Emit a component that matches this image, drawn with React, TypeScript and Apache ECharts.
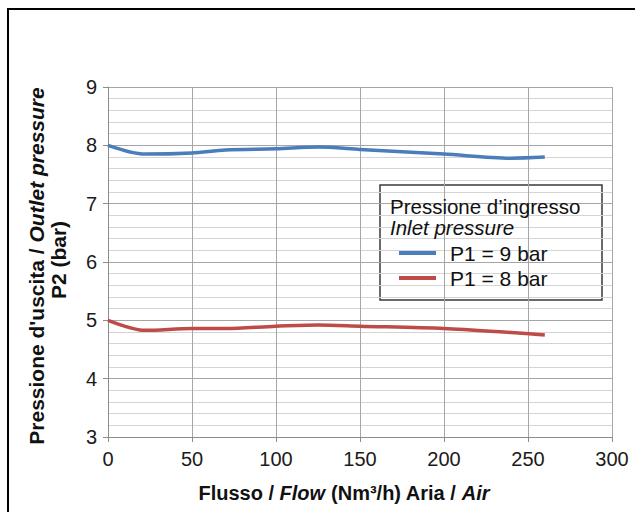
import React, { useEffect, useRef } from "react";
import * as echarts from "echarts";

const flow = [0, 22, 50, 70, 100, 125, 150, 200, 240, 260];
const p1_9bar = [8.0, 7.85, 7.87, 7.92, 7.94, 7.97, 7.93, 7.85, 7.78, 7.8];
const p1_8bar = [5.0, 4.83, 4.86, 4.86, 4.9, 4.92, 4.9, 4.86, 4.79, 4.75];
const seriesNames = ["P1 = 9 bar", "P1 = 8 bar"];
const xTicks = { min: 0, max: 300, interval: 50 };
const yTicks = { min: 3, max: 9, interval: 1 };

const FONT = "'Liberation Sans', Arial, sans-serif";

export default function App() {
  const ref = useRef<HTMLDivElement>(null);
  useEffect(() => {
    if (!ref.current) return;
    const chart = echarts.init(ref.current, undefined, { renderer: "svg" });
    const richX = {
      b: { fontFamily: FONT, fontSize: 20, fontWeight: "bold", fill: "#111" },
      bi: { fontFamily: FONT, fontSize: 20, fontWeight: "bold", fontStyle: "italic", fill: "#111" },
    };
    const richY = {
      b: { fontFamily: FONT, fontSize: 21, fontWeight: "bold", fill: "#111" },
      bi: { fontFamily: FONT, fontSize: 21, fontWeight: "bold", fontStyle: "italic", fill: "#111" },
    };
    chart.setOption({
      animation: false,
      backgroundColor: "#fff",
      grid: { left: 108, right: 23, top: 87, bottom: 75, containLabel: false },
      xAxis: {
        type: "value",
        min: xTicks.min,
        max: xTicks.max,
        interval: xTicks.interval,
        axisLine: { show: true, lineStyle: { color: "#8c8c8c", width: 1 } },
        axisTick: { show: true, length: 5, lineStyle: { color: "#8c8c8c" } },
        axisLabel: { fontFamily: FONT, fontSize: 20, color: "#1a1a1a", margin: 12 },
        splitLine: { show: true, lineStyle: { color: "#a6a6a6", width: 1 } },
      },
      yAxis: {
        type: "value",
        min: yTicks.min,
        max: yTicks.max,
        interval: yTicks.interval,
        axisLine: { show: true, lineStyle: { color: "#8c8c8c", width: 1 } },
        axisTick: { show: true, length: 5, lineStyle: { color: "#8c8c8c" } },
        axisLabel: { fontFamily: FONT, fontSize: 20, color: "#1a1a1a", margin: 11 },
        splitLine: { show: true, lineStyle: { color: "#a6a6a6", width: 1 } },
        minorTick: { show: false, splitNumber: 5 },
        minorSplitLine: { show: true, lineStyle: { color: "#d4d4d4", width: 1 } },
      },
      legend: {
        orient: "vertical",
        left: 394,
        top: 237,
        icon: "rect",
        itemWidth: 37,
        itemHeight: 4,
        itemGap: 3,
        textStyle: {
          fontFamily: FONT,
          fontSize: 21,
          color: "#111",
          lineHeight: 22,
          padding: [0, 0, 0, 9],
        },
        data: seriesNames,
      },
      series: [
        {
          name: seriesNames[0],
          type: "line",
          data: flow.map((x, i) => [x, p1_9bar[i]]),
          showSymbol: false,
          smooth: 0.3,
          lineStyle: { color: "#4a7ebb", width: 3.5 },
          itemStyle: { color: "#4a7ebb" },
          z: 5,
        },
        {
          name: seriesNames[1],
          type: "line",
          data: flow.map((x, i) => [x, p1_8bar[i]]),
          showSymbol: false,
          smooth: 0.3,
          lineStyle: { color: "#be4b48", width: 3.5 },
          itemStyle: { color: "#be4b48" },
          z: 5,
        },
      ],
      graphic: [
        {
          type: "rect",
          shape: { x: 8, y: 9, width: 650, height: 520 },
          style: { fill: "none", stroke: "#000", lineWidth: 2 },
          z: 100,
        },
        {
          type: "rect",
          shape: { x: 380, y: 185, width: 222, height: 115 },
          style: { fill: "#fff", stroke: "#3a3a3a", lineWidth: 1.5 },
          z: 0,
        },
        {
          type: "text",
          style: {
            text: "Pressione d’ingresso",
            x: 390,
            y: 206,
            verticalAlign: "middle",
            fontFamily: FONT,
            fontSize: 20.5,
            fill: "#111",
          },
          z: 100,
        },
        {
          type: "text",
          style: {
            text: "Inlet pressure",
            x: 390,
            y: 227,
            verticalAlign: "middle",
            fontFamily: FONT,
            fontSize: 20.5,
            fontStyle: "italic",
            fill: "#111",
          },
          z: 100,
        },
        {
          type: "text",
          style: {
            text: "{b|Flusso / }{bi|Flow}{b| (Nm³/h) Aria / }{bi|Air}",
            rich: richX,
            x: 344,
            y: 493,
            align: "center",
            verticalAlign: "middle",
          },
          z: 100,
        },
        {
          type: "text",
          x: 36,
          y: 266,
          rotation: Math.PI / 2,
          style: {
            text: "{b|Pressione d'uscita / }{bi|Outlet pressure}",
            rich: richY,
            x: 0,
            y: 0,
            align: "center",
            verticalAlign: "middle",
          },
          z: 100,
        },
        {
          type: "text",
          x: 58,
          y: 260,
          rotation: Math.PI / 2,
          style: {
            text: "P2 (bar)",
            x: 0,
            y: 0,
            align: "center",
            verticalAlign: "middle",
            fontFamily: FONT,
            fontSize: 21,
            fontWeight: "bold",
            fill: "#111",
          },
          z: 100,
        },
      ],
    });
    return () => chart.dispose();
  }, []);
  return (
    <div
      ref={ref}
      style={{ position: "fixed", left: 0, top: 0, width: 635, height: 512 }}
    />
  );
}
